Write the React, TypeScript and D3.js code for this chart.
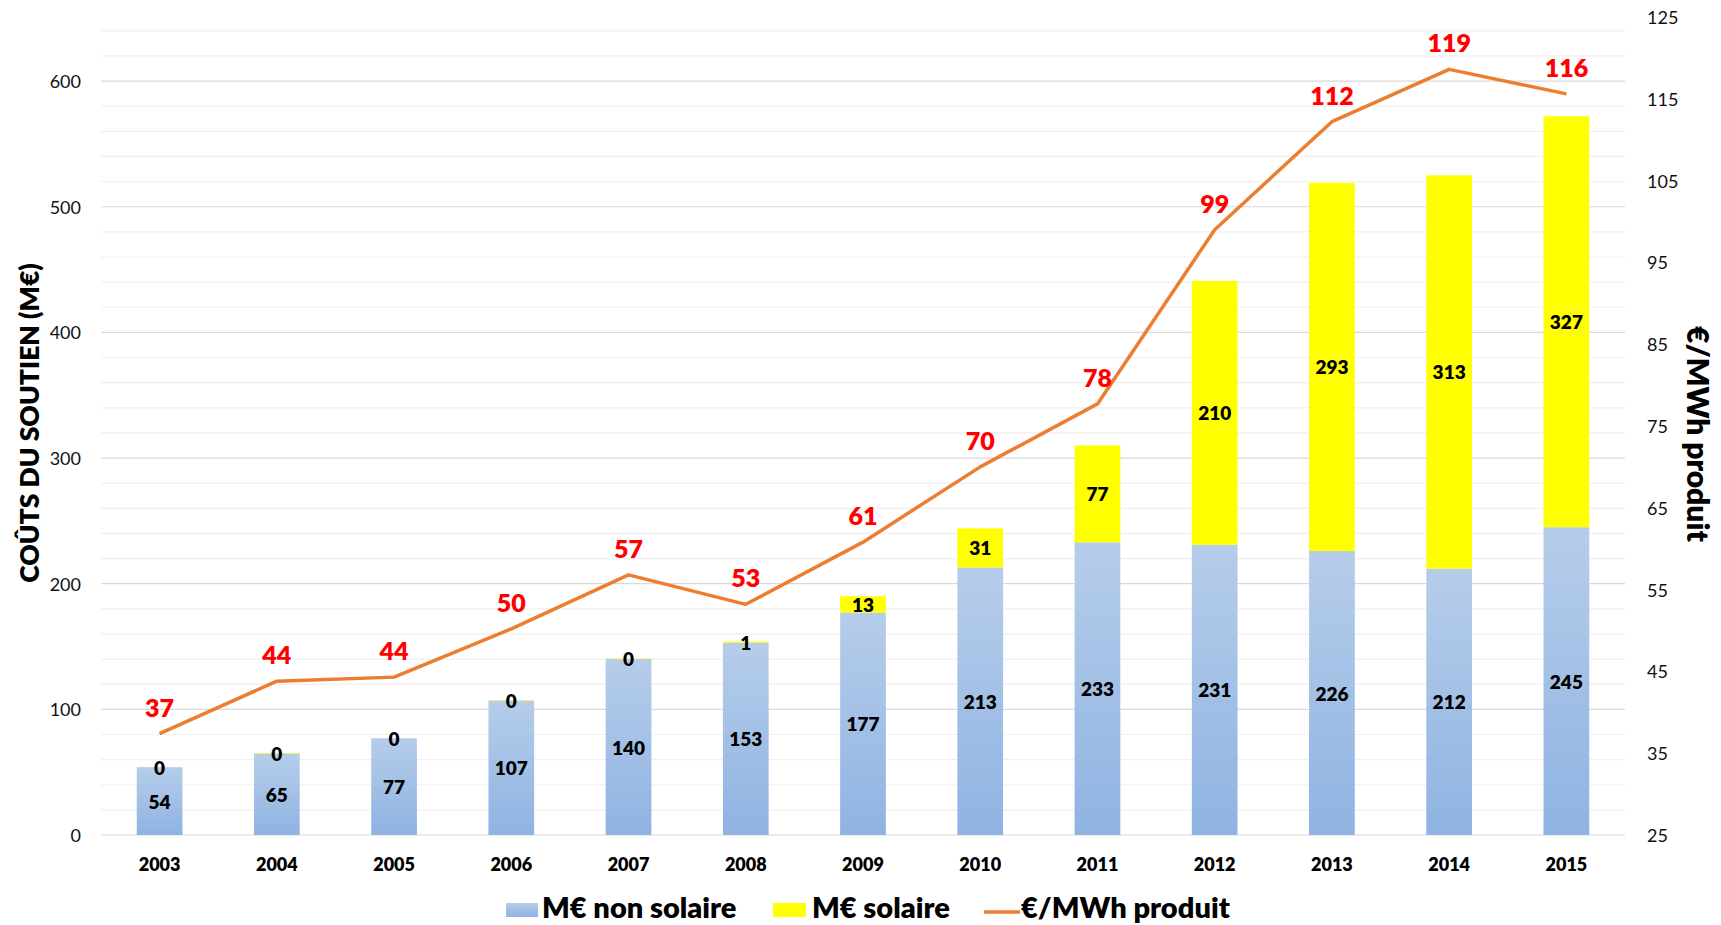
import React from 'react';
import * as d3 from 'd3';

// values
const years = ['2003', '2004', '2005', '2006', '2007', '2008', '2009', '2010', '2011', '2012', '2013', '2014', '2015'];
const nonSolaire = [54, 65, 77, 107, 140, 153, 177, 213, 233, 231, 226, 212, 245];
const solaire = [0, 0.4, 0, 0.4, 0.4, 1, 13, 31, 77, 210, 293, 313, 327];
const parMWh = [37.4, 43.8, 44.3, 50.2, 56.8, 53.2, 60.8, 70, 77.7, 99, 112.2, 118.6, 115.6];
const leftTicks = [0, 100, 200, 300, 400, 500, 600];
const rightTicks = [25, 35, 45, 55, 65, 75, 85, 95, 105, 115, 125];

const W = 1721;
const H = 925;
const FONT = 'Lato, "Open Sans", sans-serif';

const App = () => {
  const plot = { left: 101, right: 1625, top: 17, bottom: 835 };

  const x = d3.scaleBand<string>()
    .domain(years)
    .range([plot.left, plot.right])
    .paddingInner(0)
    .paddingOuter(0);
  const barW = x.step() * 0.39;

  const yL = d3.scaleLinear().domain([0, 651]).range([plot.bottom, plot.top]);
  const yR = d3.scaleLinear().domain([25, 125]).range([plot.bottom, plot.top]);

  const minor = d3.range(20, 641, 20).filter(v => v % 100 !== 0);
  const cx = (i: number) => (x(years[i]) as number) + x.step() / 2;

  const line = d3.line<number>()
    .x((_, i) => cx(i))
    .y(d => yR(d));

  const fmt = (v: number) => String(Math.round(v));

  return (
    <svg width={W} height={H} style={{ position: 'absolute', left: 0, top: 0, background: '#fff' }} fontFamily={FONT}>
      <defs>
        <linearGradient id="blueGrad" x1="0" y1="0" x2="0" y2="1">
          <stop offset="0%" stopColor="#b6cdea" />
          <stop offset="100%" stopColor="#8fb3e2" />
        </linearGradient>
      </defs>

      {/* gridlines */}
      {minor.map(v => (
        <line key={'m' + v} x1={plot.left} x2={plot.right} y1={yL(v)} y2={yL(v)} stroke="#f0f0f0" strokeWidth={1.2} />
      ))}
      {leftTicks.map(v => (
        <line key={'M' + v} x1={plot.left} x2={plot.right} y1={yL(v)} y2={yL(v)} stroke="#d9d9d9" strokeWidth={1.2} />
      ))}

      {/* left axis labels */}
      {leftTicks.map(v => (
        <text key={'lt' + v} x={81} y={yL(v)} textAnchor="end" dominantBaseline="central" fontSize={18} fill="#111">{v}</text>
      ))}
      {/* right axis labels */}
      {rightTicks.map(v => (
        <text key={'rt' + v} x={1647} y={yR(v)} textAnchor="start" dominantBaseline="central" fontSize={18} fill="#111">{v}</text>
      ))}

      {/* bars */}
      {years.map((yr, i) => {
        const x0 = cx(i) - barW / 2;
        const tot = nonSolaire[i] + solaire[i];
        return (
          <g key={yr}>
            <rect x={x0} y={yL(nonSolaire[i])} width={barW} height={yL(0) - yL(nonSolaire[i])} fill="url(#blueGrad)" />
            <rect x={x0} y={yL(tot)} width={barW} height={yL(nonSolaire[i]) - yL(tot)} fill="#ffff00" />
          </g>
        );
      })}

      {/* bar labels */}
      {years.map((yr, i) => {
        const tot = nonSolaire[i] + solaire[i];
        return (
          <g key={'bl' + yr} fontWeight={800} fontSize={19} fill="#000" textAnchor="middle">
            <text x={cx(i)} y={(yL(0) + yL(nonSolaire[i])) / 2} dominantBaseline="central">{fmt(nonSolaire[i])}</text>
            <text x={cx(i)} y={(yL(nonSolaire[i]) + yL(tot)) / 2} dominantBaseline="central">{fmt(solaire[i])}</text>
          </g>
        );
      })}

      {/* line */}
      <path d={line(parMWh) as string} fill="none" stroke="#ed7d31" strokeWidth={3.5} strokeLinejoin="round" />
      {parMWh.map((v, i) => (
        <text key={'pl' + i} x={cx(i)} y={yR(v) - 27} textAnchor="middle" dominantBaseline="central" fontSize={25} fontWeight={800} fill="#ff0000">{Math.round(v)}</text>
      ))}

      {/* x labels */}
      {years.map((yr, i) => (
        <text key={'xl' + yr} x={cx(i)} y={864} textAnchor="middle" dominantBaseline="central" fontSize={18} fontWeight={800} fill="#000">{yr}</text>
      ))}

      {/* axis titles */}
      <text transform={`translate(29,423) rotate(-90)`} textAnchor="middle" dominantBaseline="central" fontSize={26.5} fontWeight={800} fill="#000">COÛTS DU SOUTIEN (M€)</text>
      <text transform={`translate(1699,434) rotate(90)`} textAnchor="middle" dominantBaseline="central" fontSize={30} fontWeight={800} fill="#000">€/MWh produit</text>

      {/* legend */}
      <g fontSize={29} fontWeight={800} fill="#000">
        <rect x={506} y={903} width={32} height={14} fill="url(#blueGrad)" />
        <text x={542} y={918}>M€ non solaire</text>
        <rect x={773} y={903} width={33} height={14} fill="#ffff00" />
        <text x={812} y={918}>M€ solaire</text>
        <line x1={984} x2={1020} y1={912} y2={912} stroke="#ed7d31" strokeWidth={3.5} />
        <text x={1021} y={918}>€/MWh produit</text>
      </g>
    </svg>
  );
};

export default App;
